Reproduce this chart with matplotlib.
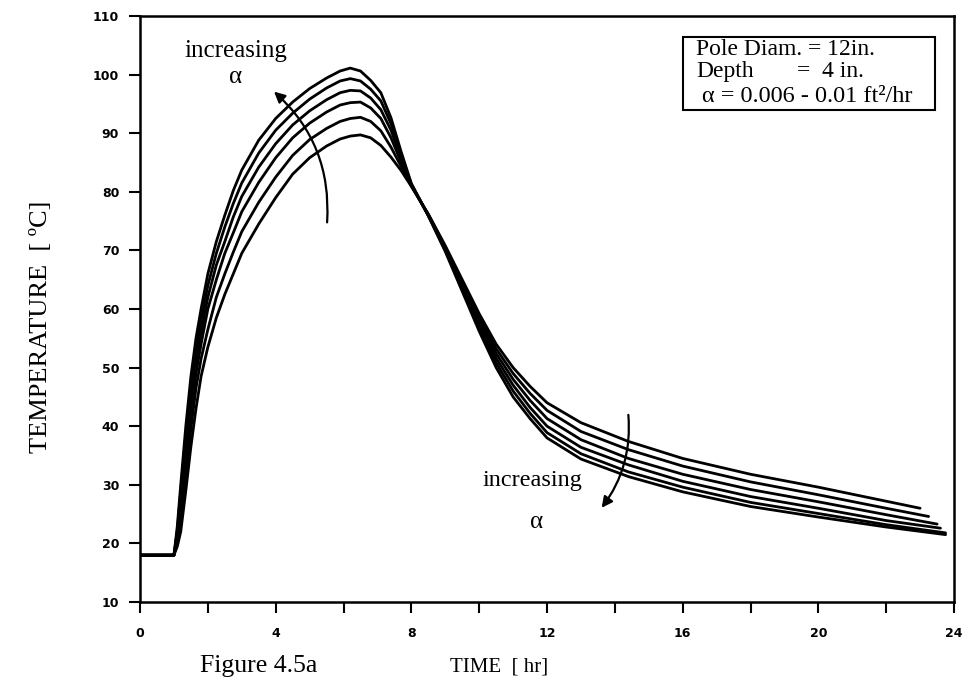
import matplotlib
matplotlib.use('Agg')
import matplotlib.pyplot as plt
from matplotlib.patches import Rectangle

# time points [hr]
time = [0.0, 1.0, 1.1, 1.2, 1.35, 1.5, 1.65, 1.8, 2.0, 2.25, 2.5, 2.75, 3.0,
        3.5, 4.0, 4.5, 5.0, 5.5, 5.9, 6.2, 6.5, 6.8, 7.1, 7.4, 7.7, 8.0,
        8.5, 9.0, 9.5, 10.0, 10.5, 11.0, 11.5, 12.0, 13.0, 14.4, 16.0, 18.0,
        20.0, 22.0]

# temperature [C], one list per diffusivity, lowest alpha first
temp_a1 = [18, 18, 19.5, 22, 29, 36.5, 43, 48.5, 53.5, 58.5, 62.5, 66, 69.5,
           74.5, 79, 83, 85.8, 87.8, 89.0, 89.5, 89.7, 89.2, 87.9, 85.9, 83.6, 80.9,
           76.2, 70.8, 65.0, 59.2, 54.0, 50.0, 46.8, 44.0,
           40.6, 37.4, 34.5, 31.8, 29.6, 27.2]
temp_a2 = [18, 18, 20.5, 24, 32, 39.5, 46.5, 51.5, 56.5, 62, 66, 69.7, 73.2,
           78.2, 82.5, 86.2, 88.9, 90.8, 92.0, 92.5, 92.7, 92.0, 90.4, 87.6, 84.3, 81.0,
           76.1, 70.6, 64.6, 58.6, 53.2, 49.0, 45.6, 42.7,
           39.1, 36.0, 33.2, 30.5, 28.3, 26.0]
temp_a3 = [18, 18, 21, 26, 34.5, 42.5, 49, 54, 60, 65, 69.5, 73, 76.6,
           81.6, 85.8, 89.2, 91.7, 93.6, 94.8, 95.2, 95.3, 94.3, 92.5, 89.2, 85.0, 81.1,
           76.0, 70.4, 64.2, 58.0, 52.4, 48.0, 44.4, 41.3,
           37.7, 34.5, 31.8, 29.2, 27.1, 24.9]
temp_a4 = [18, 18, 21.5, 27.5, 36.5, 44.5, 51, 56, 62, 67.5, 71.5, 75.7, 79.2,
           84.2, 88.2, 91.4, 93.8, 95.7, 96.9, 97.3, 97.2, 96.0, 94.0, 90.5, 85.6, 81.2,
           76.0, 70.2, 63.8, 57.4, 51.6, 47.0, 43.2, 40.0,
           36.4, 33.4, 30.6, 28.0, 26.0, 23.9]
temp_a5 = [18, 18, 22.2, 29, 38.5, 46.5, 53, 58, 64, 69.5, 74, 78, 81.5,
           86.6, 90.5, 93.4, 95.8, 97.7, 98.9, 99.3, 98.9, 97.5, 95.5, 91.6, 86.2, 81.3,
           75.9, 70.0, 63.4, 56.8, 50.8, 46.0, 42.2, 38.9,
           35.3, 32.2, 29.6, 27.0, 25.1, 23.2]
temp_a6 = [18, 18, 23, 30, 40, 48.5, 55, 60, 66, 71.5, 76, 80.2, 83.7,
           88.8, 92.5, 95.3, 97.6, 99.4, 100.6, 101.1, 100.6, 99.0, 96.9, 92.6, 86.8, 81.4,
           75.9, 69.8, 63.0, 56.2, 50.0, 45.0, 41.3, 38.0,
           34.4, 31.4, 28.8, 26.3, 24.5, 22.8]

# where each curve stops on the right
end_time = [23.0, 23.25, 23.5, 23.6, 23.75, 23.75]
end_temp = [26.0, 24.6, 23.3, 22.6, 21.8, 21.5]

x_ticks = list(range(0, 25, 2))
x_labels = ['0', '', '4', '', '8', '', '12', '', '16', '', '20', '', '24']
y_ticks = list(range(10, 111, 10))

serif = 'Liberation Serif'

fig = plt.figure(figsize=(9.67, 6.92), dpi=100)
ax = fig.add_axes([0.1448, 0.130, 0.8418, 0.847])

curves = [temp_a1, temp_a2, temp_a3, temp_a4, temp_a5, temp_a6]
for temps, t_end, T_end in zip(curves, end_time, end_temp):
    ax.plot(time + [t_end], temps + [T_end], color='black', lw=2.0,
            solid_joinstyle='round', solid_capstyle='round')

ax.set_xlim(0, 24)
ax.set_ylim(10, 110)
ax.set_xticks(x_ticks)
ax.set_xticklabels(x_labels)
ax.set_yticks(y_ticks)
for spine in ax.spines.values():
    spine.set_linewidth(1.8)
ax.tick_params(direction='out', length=8, width=1.5, labelsize=9, pad=7)
ax.tick_params(axis='x', pad=10)
for lab in ax.get_xticklabels() + ax.get_yticklabels():
    lab.set_fontweight('bold')

ax.set_ylabel('TEMPERATURE  [ ºC]', family=serif, fontsize=19)
ax.yaxis.set_label_coords(-0.108, 0.47)
fig.text(0.516, 0.036, 'TIME  [ hr]', family=serif, fontsize=15,
         ha='center', va='center')
fig.text(0.207, 0.038, 'Figure 4.5a', family=serif, fontsize=18.5,
         ha='left', va='center')

# parameter box
ax.add_patch(Rectangle((0.667, 0.840), 0.310, 0.124, transform=ax.transAxes,
                       fill=False, lw=1.5, color='black'))
ax.text(0.683, 0.942, 'Pole Diam. = 12in.', transform=ax.transAxes,
        family=serif, fontsize=17, va='center')
ax.text(0.683, 0.906, 'Depth', transform=ax.transAxes,
        family=serif, fontsize=17, va='center')
ax.text(0.807, 0.906, '=  4 in.', transform=ax.transAxes,
        family=serif, fontsize=17, va='center')
ax.text(0.690, 0.862, 'α = 0.006 - 0.01 ft²/hr', transform=ax.transAxes,
        family=serif, fontsize=17.5, va='center')

# "increasing alpha" notes with curved arrows
ax.text(2.83, 104.0, 'increasing', family=serif, fontsize=18, ha='center',
        va='center')
ax.text(2.83, 99.5, 'α', family=serif, fontsize=18, ha='center', va='center')
ax.annotate('', xy=(3.89, 97.4), xytext=(5.51, 74.3),
            arrowprops=dict(arrowstyle='-|>', color='black', lw=1.6,
                            mutation_scale=16,
                            connectionstyle='arc3,rad=0.25'))

ax.text(11.56, 30.8, 'increasing', family=serif, fontsize=17.5, ha='center',
        va='center')
ax.text(11.7, 23.7, 'α', family=serif, fontsize=18, ha='center', va='center')
ax.annotate('', xy=(13.56, 25.7), xytext=(14.39, 42.4),
            arrowprops=dict(arrowstyle='-|>', color='black', lw=1.6,
                            mutation_scale=16,
                            connectionstyle='arc3,rad=-0.2'))

fig.savefig('out.png', dpi=100)
